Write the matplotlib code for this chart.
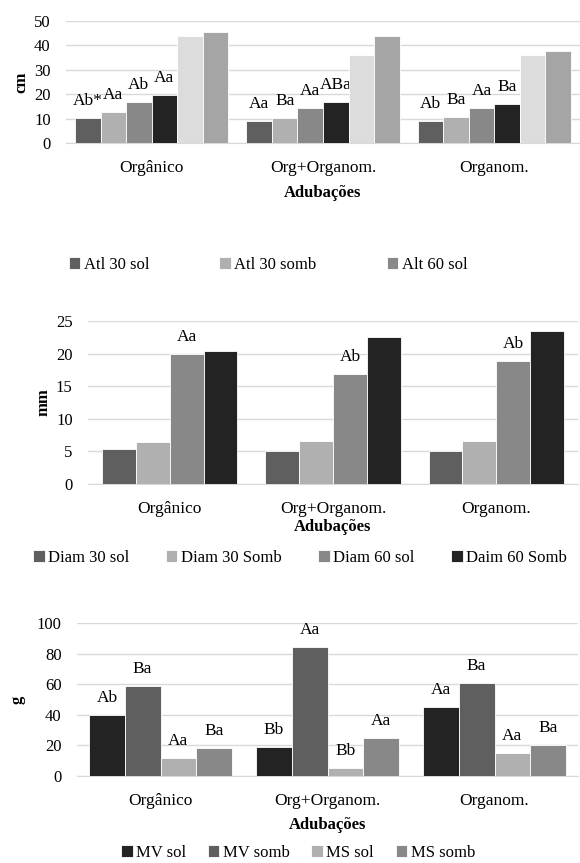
import matplotlib
matplotlib.use('Agg')
import matplotlib.pyplot as plt
import numpy as np

plt.rcParams['font.family'] = 'serif'
plt.rcParams['font.serif'] = ['Liberation Serif', 'DejaVu Serif']
plt.rcParams['font.size'] = 12

cats = ['Orgânico', 'Org+Organom.', 'Organom.']

# grafico 1 - altura (cm)
alt_names = ['Atl 30 sol', 'Atl 30 somb', 'Alt 60 sol', 'Alt 60 somb', 'Alt 90 sol', 'Alt 90 somb']
alt_vals = [
    [10.2, 9.2, 9.2],
    [12.9, 10.2, 10.9],
    [16.9, 14.5, 14.5],
    [19.8, 16.9, 16.2],
    [43.8, 36.0, 36.0],
    [45.3, 43.7, 37.7],
]
alt_labels = [
    ['Ab*', 'Aa', 'Ab'],
    ['Aa', 'Ba', 'Ba'],
    ['Ab', 'Aa', 'Aa'],
    ['Aa', 'ABa', 'Ba'],
    ['', '', ''],
    ['', '', ''],
]
alt_colors = ['#5f5f5f', '#b0b0b0', '#888888', '#232323', '#dcdcdc', '#a5a5a5']

# grafico 2 - diametro (mm)
diam_names = ['Diam 30 sol', 'Diam 30 Somb', 'Diam 60 sol', 'Daim 60 Somb']
diam_vals = [
    [5.3, 5.0, 5.0],
    [6.5, 6.6, 6.6],
    [19.9, 16.8, 18.8],
    [20.4, 22.6, 23.4],
]
diam_labels = [
    ['', '', ''],
    ['', '', ''],
    ['Aa', 'Ab', 'Ab'],
    ['', '', ''],
]
diam_colors = ['#5f5f5f', '#b0b0b0', '#888888', '#232323']

# grafico 3 - massa (g)
mass_names = ['MV sol', 'MV somb', 'MS sol', 'MS somb']
mass_vals = [
    [40, 19, 45],
    [58.5, 84.5, 61],
    [12, 5, 15],
    [18.5, 25, 20.5],
]
mass_labels = [
    ['Ab', 'Bb', 'Aa'],
    ['Ba', 'Aa', 'Ba'],
    ['Aa', 'Bb', 'Aa'],
    ['Ba', 'Aa', 'Ba'],
]
mass_colors = ['#232323', '#5f5f5f', '#b0b0b0', '#888888']

W, H = 580, 863
fig = plt.figure(figsize=(W / 100, H / 100), dpi=100)


def draw(left, right, top, bottom, names, vals, labels, colors, ylim, yticks, ylabel,
         ylab_x, group_w, xlab_pad, leg_x, leg_y, leg_n, colsp):
    ax = fig.add_axes([left / W, 1 - bottom / H, (right - left) / W, (bottom - top) / H])
    n = len(names)
    x = np.arange(len(cats))
    w = group_w / n
    handles = []
    for i in range(n):
        pos = x - group_w / 2 + w * (i + 0.5)
        b = ax.bar(pos, vals[i], w, color=colors[i], edgecolor='white', linewidth=0.6,
                   label=names[i], zorder=3)
        ax.bar_label(b, labels=labels[i], padding=6.5, fontsize=12.5)
        handles.append(b)
    ax.set_xlim(-0.5, len(cats) - 0.5)
    ax.set_ylim(*ylim)
    ax.set_yticks(yticks)
    ax.set_xticks(x)
    ax.set_xticklabels(cats, fontsize=12.5)
    ax.tick_params(length=0, labelsize=12)
    ax.tick_params(axis='x', pad=12, labelsize=12.5)
    ax.tick_params(axis='y', pad=11)
    ax.grid(axis='y', color='#d9d9d9', linewidth=1, zorder=0)
    for s in ['top', 'right', 'left']:
        ax.spines[s].set_visible(False)
    ax.spines['bottom'].set_color('#d9d9d9')
    ax.set_ylabel(ylabel, fontweight='bold', fontsize=12)
    ax.yaxis.set_label_coords((ylab_x - left) / (right - left), 0.5)
    ax.set_xlabel('Adubações', fontweight='bold', fontsize=12, labelpad=xlab_pad)
    fig.legend(handles[:leg_n], names[:leg_n], loc='center',
               bbox_to_anchor=(leg_x / W, 1 - leg_y / H),
               ncol=leg_n, frameon=False, handlelength=0.7, handleheight=0.7,
               handletextpad=0.2, columnspacing=colsp, fontsize=12)
    return ax


ax1 = draw(66, 580, 20.7, 143.3, alt_names, alt_vals, alt_labels, alt_colors,
           (0, 50), [0, 10, 20, 30, 40, 50], 'cm', 29, 0.895, 6.5, 268, 265, 3, 4.2)
ax2 = draw(88, 578, 321, 484, diam_names, diam_vals, diam_labels, diam_colors,
           (0, 25), [0, 5, 10, 15, 20, 25], 'mm', 51, 0.83, 1.5, 300, 558, 4, 2.2)
ax3 = draw(77, 578, 623, 776, mass_names, mass_vals, mass_labels, mass_colors,
           (0, 100), [0, 20, 40, 60, 80, 100], 'g', 26, 0.856, 6, 298, 853, 4, 1.3)

fig.savefig('out.png', dpi=100)
